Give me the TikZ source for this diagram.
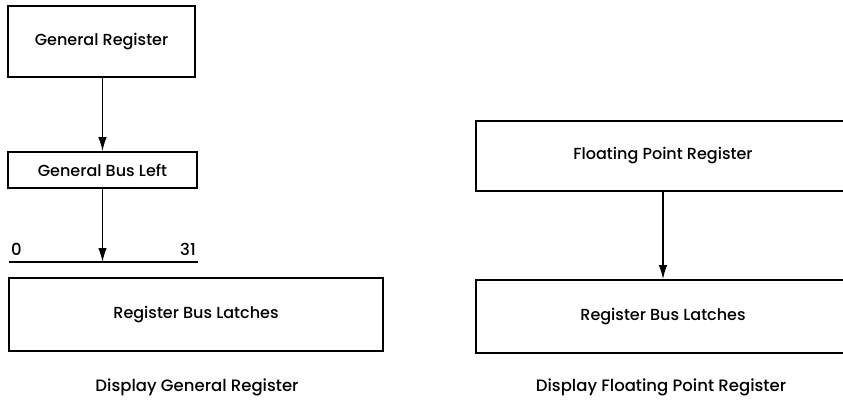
\documentclass[tikz,border=0pt]{standalone}
\usepackage{fontspec}
\setmainfont{Poppins Medium}
\usetikzlibrary{positioning,arrows.meta}

\begin{document}
\begin{tikzpicture}[x=1pt,y=-1pt,
  regbox/.style={draw,line width=1.8pt,inner sep=0pt,font=\fontsize{16}{18}\selectfont},
  flow/.style={line width=1.3pt,-{Latex[length=14pt,width=8.5pt]}},
  lbl/.style={inner sep=0pt,font=\fontsize{16.5}{18}\selectfont}]
\useasboundingbox (0,0) rectangle (843,406);
\clip (0,0) rectangle (843,406);
% left: general register
\node[regbox,minimum width=187,minimum height=71] (gr) at (101.5,41.5) {General Register};
\node[regbox,minimum width=189,minimum height=36] (gbl) at (102.5,170) {General Bus Left};
\coordinate (busl) at (9,262);
\coordinate (busr) at (198,262);
\coordinate (busm) at (102.5,262);
\draw[line width=1.8pt] (busl)--(busr);
\node[lbl,above right=6pt and 2pt of busl] (b0) {0};
\node[lbl,above left=6pt and 2pt of busr] (b31) {31};
\node[regbox,minimum width=374,minimum height=73] (rbl) at (196,314.5) {Register Bus Latches};
\draw[flow] (gr.south -| gbl)--(gbl.north);
\draw[flow] (gbl.south)--(busm);
\node[lbl] (capl) at (197,387) {Display General Register};
% right: floating point register
\node[regbox,minimum width=374,minimum height=70] (fpr) at (663,156) {Floating Point Register};
\node[regbox,minimum width=374,minimum height=73] (rbr) at (663,316.5) {Register Bus Latches};
\draw[flow] (fpr.south)--(rbr.north);
\node[lbl] (capr) at (661,387) {Display Floating Point Register};
\end{tikzpicture}
\end{document}
